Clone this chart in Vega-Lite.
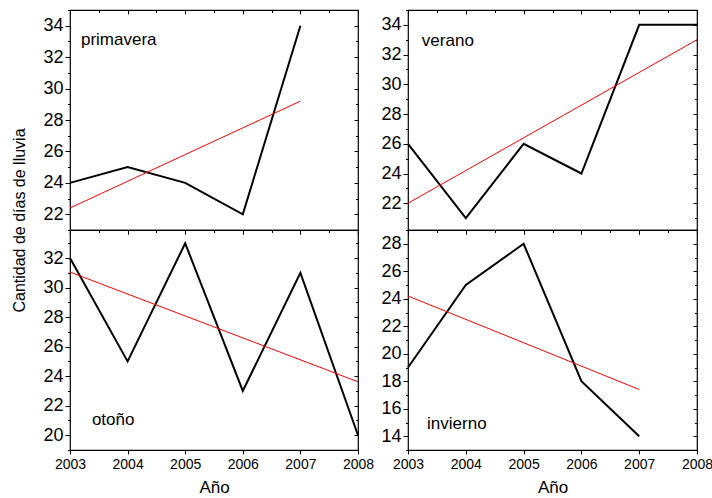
{
  "$schema": "https://vega.github.io/schema/vega-lite/v6.json",
  "padding": {"left": 11, "top": 0, "right": 0, "bottom": 0},
  "background": "white",
  "config": {
    "font": "Liberation Sans",
    "view": {"stroke": "black", "strokeWidth": 1.2},
    "axis": {"grid": false, "domain": false, "tickColor": "black", "tickWidth": 1, "labelColor": "black", "titleColor": "black", "labelFont": "Liberation Sans", "titleFont": "Liberation Sans", "titleFontWeight": "normal", "labelOverlap": false, "labelFlush": false},
    "axisX": {"labelFontSize": 14, "titleFontSize": 17, "labelPadding": 3, "titlePadding": 8},
    "axisY": {"labelFontSize": 18, "titleFontSize": 16, "labelPadding": 2, "titlePadding": 15}
  },
  "datasets": {
    "primavera": [
      {"year": 2003, "days": 24, "series": "obs"},
      {"year": 2004, "days": 25, "series": "obs"},
      {"year": 2005, "days": 24, "series": "obs"},
      {"year": 2006, "days": 22, "series": "obs"},
      {"year": 2007, "days": 34, "series": "obs"},
      {"year": 2003, "days": 22.4, "series": "trend"},
      {"year": 2007, "days": 29.2, "series": "trend"}
    ],
    "verano": [
      {"year": 2003, "days": 26, "series": "obs"},
      {"year": 2004, "days": 21, "series": "obs"},
      {"year": 2005, "days": 26, "series": "obs"},
      {"year": 2006, "days": 24, "series": "obs"},
      {"year": 2007, "days": 34, "series": "obs"},
      {"year": 2008, "days": 34, "series": "obs"},
      {"year": 2003, "days": 22.0, "series": "trend"},
      {"year": 2008, "days": 33.0, "series": "trend"}
    ],
    "otono": [
      {"year": 2003, "days": 32, "series": "obs"},
      {"year": 2004, "days": 25, "series": "obs"},
      {"year": 2005, "days": 33, "series": "obs"},
      {"year": 2006, "days": 23, "series": "obs"},
      {"year": 2007, "days": 31, "series": "obs"},
      {"year": 2008, "days": 20, "series": "obs"},
      {"year": 2003, "days": 31.05, "series": "trend"},
      {"year": 2008, "days": 23.62, "series": "trend"}
    ],
    "invierno": [
      {"year": 2003, "days": 19, "series": "obs"},
      {"year": 2004, "days": 25, "series": "obs"},
      {"year": 2005, "days": 28, "series": "obs"},
      {"year": 2006, "days": 18, "series": "obs"},
      {"year": 2007, "days": 14, "series": "obs"},
      {"year": 2003, "days": 24.2, "series": "trend"},
      {"year": 2007, "days": 17.4, "series": "trend"}
    ]
  },
  "columns": 2,
  "spacing": {"row": 0, "column": 50},
  "bounds": "flush",
  "concat": [
    {
      "width": 288, "height": 220,
      "data": {"name": "primavera"},
      "layer": [
        {
          "transform": [{"filter": "datum.series === 'obs'"}],
          "mark": {"type": "line", "color": "black", "strokeWidth": 2},
          "encoding": {
            "x": {"field": "year", "type": "quantitative", "scale": {"domain": [2003, 2008], "nice": false, "zero": false},
              "axis": {"orient": "bottom", "values": [2003, 2003.5, 2004, 2004.5, 2005, 2005.5, 2006, 2006.5, 2007, 2007.5, 2008], "labels": false, "title": null, "tickSize": 4, "tickDash": {"condition": {"test": "datum.value % 1 !== 0", "value": [2.5, 10]}, "value": [10, 0]}}},
            "y": {"field": "days", "type": "quantitative", "scale": {"domain": [21, 35], "nice": false, "zero": false},
              "axis": {"orient": "left", "values": [21,22,23,24,25,26,27,28,29,30,31,32,33,34,35], "labelExpr": "datum.value % 2 === 0 ? datum.label : ''", "format": "d", "tickSize": 5, "tickDash": {"condition": {"test": "datum.value % 2 !== 0", "value": [2.5, 10]}, "value": [10, 0]}, "title": "Cantidad de días de lluvia", "titleY": 210}}
          }
        },
        {
          "transform": [{"filter": "datum.series === 'trend'"}],
          "mark": {"type": "line", "color": "#ff0000", "strokeWidth": 1},
          "encoding": {
            "x": {"field": "year", "type": "quantitative", "scale": {"domain": [2003, 2008], "nice": false, "zero": false},
              "axis": {"orient": "top", "values": [2003, 2003.5, 2004, 2004.5, 2005, 2005.5, 2006, 2006.5, 2007, 2007.5, 2008], "labels": false, "title": null, "tickSize": -4, "tickDash": {"condition": {"test": "datum.value % 1 !== 0", "value": [2.5, 10]}, "value": [10, 0]}}},
            "y": {"field": "days", "type": "quantitative", "scale": {"domain": [21, 35], "nice": false, "zero": false},
              "axis": {"orient": "right", "values": [21,22,23,24,25,26,27,28,29,30,31,32,33,34,35], "labels": false, "title": null, "tickSize": -4, "tickDash": {"condition": {"test": "datum.value % 2 !== 0", "value": [2.5, 10]}, "value": [10, 0]}}}
          }
        },
        {
          "data": {"values": [{"label": "primavera"}]},
          "mark": {"type": "text", "align": "left", "baseline": "alphabetic", "fontSize": 17, "color": "black"},
          "encoding": {
            "x": {"datum": 2003.19, "type": "quantitative", "axis": null},
            "y": {"datum": 32.79, "type": "quantitative", "axis": null},
            "text": {"field": "label"}
          }
        }
      ],
      "resolve": {"axis": {"x": "independent", "y": "independent"}}
    },
    {
      "width": 289, "height": 220,
      "data": {"name": "verano"},
      "layer": [
        {
          "transform": [{"filter": "datum.series === 'obs'"}],
          "mark": {"type": "line", "color": "black", "strokeWidth": 2},
          "encoding": {
            "x": {"field": "year", "type": "quantitative", "scale": {"domain": [2003, 2008], "nice": false, "zero": false},
              "axis": {"orient": "bottom", "values": [2003, 2003.5, 2004, 2004.5, 2005, 2005.5, 2006, 2006.5, 2007, 2007.5, 2008], "labels": false, "title": null, "tickSize": 4, "tickDash": {"condition": {"test": "datum.value % 1 !== 0", "value": [2.5, 10]}, "value": [10, 0]}}},
            "y": {"field": "days", "type": "quantitative", "scale": {"domain": [20.2, 35], "nice": false, "zero": false},
              "axis": {"orient": "left", "values": [21,22,23,24,25,26,27,28,29,30,31,32,33,34,35], "labelExpr": "datum.value % 2 === 0 ? datum.label : ''", "format": "d", "tickSize": 5, "tickDash": {"condition": {"test": "datum.value % 2 !== 0", "value": [2.5, 10]}, "value": [10, 0]}, "title": null}}
          }
        },
        {
          "transform": [{"filter": "datum.series === 'trend'"}],
          "mark": {"type": "line", "color": "#ff0000", "strokeWidth": 1},
          "encoding": {
            "x": {"field": "year", "type": "quantitative", "scale": {"domain": [2003, 2008], "nice": false, "zero": false},
              "axis": {"orient": "top", "values": [2003, 2003.5, 2004, 2004.5, 2005, 2005.5, 2006, 2006.5, 2007, 2007.5, 2008], "labels": false, "title": null, "tickSize": -4, "tickDash": {"condition": {"test": "datum.value % 1 !== 0", "value": [2.5, 10]}, "value": [10, 0]}}},
            "y": {"field": "days", "type": "quantitative", "scale": {"domain": [20.2, 35], "nice": false, "zero": false},
              "axis": {"orient": "right", "values": [21,22,23,24,25,26,27,28,29,30,31,32,33,34,35], "labels": false, "title": null, "tickSize": -4, "tickDash": {"condition": {"test": "datum.value % 2 !== 0", "value": [2.5, 10]}, "value": [10, 0]}}}
          }
        },
        {
          "data": {"values": [{"label": "verano"}]},
          "mark": {"type": "text", "align": "left", "baseline": "alphabetic", "fontSize": 17, "color": "black"},
          "encoding": {
            "x": {"datum": 2003.24, "type": "quantitative", "axis": null},
            "y": {"datum": 32.6, "type": "quantitative", "axis": null},
            "text": {"field": "label"}
          }
        }
      ],
      "resolve": {"axis": {"x": "independent", "y": "independent"}}
    },
    {
      "width": 288, "height": 220,
      "data": {"name": "otono"},
      "layer": [
        {
          "transform": [{"filter": "datum.series === 'obs'"}],
          "mark": {"type": "line", "color": "black", "strokeWidth": 2},
          "encoding": {
            "x": {"field": "year", "type": "quantitative", "scale": {"domain": [2003, 2008], "nice": false, "zero": false},
              "axis": {"orient": "bottom", "values": [2003, 2003.5, 2004, 2004.5, 2005, 2005.5, 2006, 2006.5, 2007, 2007.5, 2008], "format": "d", "labelExpr": "datum.value % 1 === 0 ? datum.label : ''", "title": "Año", "tickSize": 4, "tickDash": {"condition": {"test": "datum.value % 1 !== 0", "value": [2.5, 10]}, "value": [10, 0]}}},
            "y": {"field": "days", "type": "quantitative", "scale": {"domain": [19, 33.9], "nice": false, "zero": false},
              "axis": {"orient": "left", "values": [19,20,21,22,23,24,25,26,27,28,29,30,31,32,33], "labelExpr": "datum.value % 2 === 0 ? datum.label : ''", "format": "d", "tickSize": 5, "tickDash": {"condition": {"test": "datum.value % 2 !== 0", "value": [2.5, 10]}, "value": [10, 0]}, "title": null}}
          }
        },
        {
          "transform": [{"filter": "datum.series === 'trend'"}],
          "mark": {"type": "line", "color": "#ff0000", "strokeWidth": 1},
          "encoding": {
            "x": {"field": "year", "type": "quantitative", "scale": {"domain": [2003, 2008], "nice": false, "zero": false},
              "axis": {"orient": "top", "values": [2003, 2003.5, 2004, 2004.5, 2005, 2005.5, 2006, 2006.5, 2007, 2007.5, 2008], "labels": false, "title": null, "tickSize": -4, "tickDash": {"condition": {"test": "datum.value % 1 !== 0", "value": [2.5, 10]}, "value": [10, 0]}}},
            "y": {"field": "days", "type": "quantitative", "scale": {"domain": [19, 33.9], "nice": false, "zero": false},
              "axis": {"orient": "right", "values": [19,20,21,22,23,24,25,26,27,28,29,30,31,32,33], "labels": false, "title": null, "tickSize": -4, "tickDash": {"condition": {"test": "datum.value % 2 !== 0", "value": [2.5, 10]}, "value": [10, 0]}}}
          }
        },
        {
          "data": {"values": [{"label": "otoño"}]},
          "mark": {"type": "text", "align": "left", "baseline": "alphabetic", "fontSize": 17, "color": "black"},
          "encoding": {
            "x": {"datum": 2003.38, "type": "quantitative", "axis": null},
            "y": {"datum": 20.72, "type": "quantitative", "axis": null},
            "text": {"field": "label"}
          }
        }
      ],
      "resolve": {"axis": {"x": "independent", "y": "independent"}}
    },
    {
      "width": 289, "height": 220,
      "data": {"name": "invierno"},
      "layer": [
        {
          "transform": [{"filter": "datum.series === 'obs'"}],
          "mark": {"type": "line", "color": "black", "strokeWidth": 2},
          "encoding": {
            "x": {"field": "year", "type": "quantitative", "scale": {"domain": [2003, 2008], "nice": false, "zero": false},
              "axis": {"orient": "bottom", "values": [2003, 2003.5, 2004, 2004.5, 2005, 2005.5, 2006, 2006.5, 2007, 2007.5, 2008], "format": "d", "labelExpr": "datum.value % 1 === 0 ? datum.label : ''", "title": "Año", "tickSize": 4, "tickDash": {"condition": {"test": "datum.value % 1 !== 0", "value": [2.5, 10]}, "value": [10, 0]}}},
            "y": {"field": "days", "type": "quantitative", "scale": {"domain": [13, 29], "nice": false, "zero": false},
              "axis": {"orient": "left", "values": [13,14,15,16,17,18,19,20,21,22,23,24,25,26,27,28,29], "labelExpr": "datum.value % 2 === 0 ? datum.label : ''", "format": "d", "tickSize": 5, "tickDash": {"condition": {"test": "datum.value % 2 !== 0", "value": [2.5, 10]}, "value": [10, 0]}, "title": null}}
          }
        },
        {
          "transform": [{"filter": "datum.series === 'trend'"}],
          "mark": {"type": "line", "color": "#ff0000", "strokeWidth": 1},
          "encoding": {
            "x": {"field": "year", "type": "quantitative", "scale": {"domain": [2003, 2008], "nice": false, "zero": false},
              "axis": {"orient": "top", "values": [2003, 2003.5, 2004, 2004.5, 2005, 2005.5, 2006, 2006.5, 2007, 2007.5, 2008], "labels": false, "title": null, "tickSize": -4, "tickDash": {"condition": {"test": "datum.value % 1 !== 0", "value": [2.5, 10]}, "value": [10, 0]}}},
            "y": {"field": "days", "type": "quantitative", "scale": {"domain": [13, 29], "nice": false, "zero": false},
              "axis": {"orient": "right", "values": [13,14,15,16,17,18,19,20,21,22,23,24,25,26,27,28,29], "labels": false, "title": null, "tickSize": -4, "tickDash": {"condition": {"test": "datum.value % 2 !== 0", "value": [2.5, 10]}, "value": [10, 0]}}}
          }
        },
        {
          "data": {"values": [{"label": "invierno"}]},
          "mark": {"type": "text", "align": "left", "baseline": "alphabetic", "fontSize": 17, "color": "black"},
          "encoding": {
            "x": {"datum": 2003.33, "type": "quantitative", "axis": null},
            "y": {"datum": 14.55, "type": "quantitative", "axis": null},
            "text": {"field": "label"}
          }
        }
      ],
      "resolve": {"axis": {"x": "independent", "y": "independent"}}
    }
  ]
}
